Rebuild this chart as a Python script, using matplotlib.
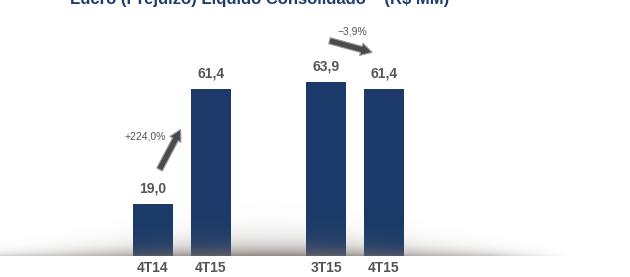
import numpy as np
import matplotlib
matplotlib.use("Agg")
import matplotlib.pyplot as plt

# data
categories = ["4T14", "4T15", "3T15", "4T15"]
positions = [0, 1, 3, 4]
values = [19.0, 61.4, 63.9, 61.4]
value_labels = ["19,0", "61,4", "63,9", "61,4"]
growth_labels = ["+224,0%", "\u22123,9%"]

title = "Lucro (Prejuízo) Líquido Consolidado – (R$ MM)"
bar_color = "#1b3a69"
text_gray = "#555555"
fonts = ["Liberation Sans Narrow", "Liberation Sans", "DejaVu Sans"]

fig = plt.figure(figsize=(6.3, 2.77), dpi=100)
ax = fig.add_axes([0, 0, 1, 1])
ax.set_xlim(-2.65, 8.26)
ax.set_ylim(-7.7, 94.1)
ax.axis("off")

ax.bar(positions, values, width=0.69, color=bar_color, zorder=2)

# soft shadow under the bars
top = 25
nx, ny = 400, 200
xs = np.linspace(-2.65, 7.3, nx)
ys = np.linspace(0, top, ny)
X, Y = np.meshgrid(xs, ys)
xc = 2.0
w = np.exp(-((X - xc) / 3.6) ** 2)
edge = np.clip((7.3 - X) / 1.5, 0, 1)
h = 0.6 + 4.5 * w
alpha = 0.8 * np.exp(-Y / h) * (0.25 + 0.75 * w) * edge * (1 - Y / top)
img = np.zeros((ny, nx, 4))
img[..., 0] = 0.45
img[..., 1] = 0.42
img[..., 2] = 0.40
img[..., 3] = alpha
ax.imshow(img, extent=(xs[0], xs[-1], 0, top), origin="lower",
          aspect="auto", zorder=3, interpolation="bilinear")

for x, v, lab in zip(positions, values, value_labels):
    ax.text(x, v + 3.2, lab, ha="center", va="bottom", fontsize=10,
            fontweight="bold", color=text_gray, family=fonts)

for x, lab in zip(positions, categories):
    ax.text(x, -4.3, lab, ha="center", va="center", fontsize=10,
            fontweight="bold", color=text_gray, family=fonts)

# growth arrows
arrow_kw = dict(arrowstyle="simple,head_width=0.9,head_length=0.8,tail_width=0.45",
                fc="#4a4a4a", ec="#9a9a9a", lw=0.8)
ax.annotate("", xy=(0.5, 47.4), xytext=(0.09, 30.9),
            arrowprops=arrow_kw, zorder=4)
ax.text(0.22, 43.8, growth_labels[0], ha="right", va="center", fontsize=7.5,
        color=text_gray, family=fonts)
ax.annotate("", xy=(3.84, 74.6), xytext=(3.01, 79.4),
            arrowprops=arrow_kw, zorder=4)
ax.text(3.46, 82.6, growth_labels[1], ha="center", va="center", fontsize=7.5,
        color=text_gray, family=fonts)

fig.text(260 / 630, 1 - 4 / 277, title, ha="center", va="baseline",
         fontsize=12, fontweight="bold", color="#1d3d6e", family=fonts)

fig.savefig("out.png", dpi=100)
